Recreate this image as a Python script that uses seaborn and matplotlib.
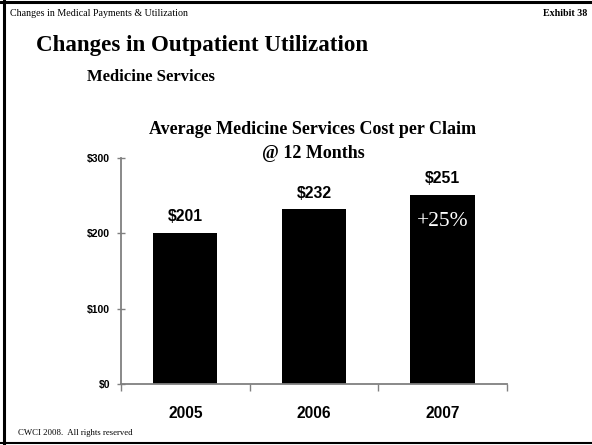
import matplotlib
matplotlib.use("Agg")
import matplotlib.pyplot as plt
import seaborn as sns
import pandas as pd
from matplotlib.lines import Line2D

years = ["2005", "2006", "2007"]
costs = [201, 232, 251]
value_labels = ["$201", "$232", "$251"]
ytick_vals = [0, 100, 200, 300]
ytick_labels = ["$0", "$100", "$200", "$300"]
change_label = "+25%"

sns.set_theme(style="white")
plt.rcParams["font.family"] = ["Liberation Sans", "DejaVu Sans"]
plt.rcParams["text.color"] = "black"
plt.rcParams["axes.labelcolor"] = "black"
plt.rcParams["xtick.color"] = "black"
plt.rcParams["ytick.color"] = "black"

df = pd.DataFrame({"year": years, "cost": costs})

W, H = 592, 445
fig = plt.figure(figsize=(W / 100, H / 100), dpi=100)
fig.patch.set_facecolor("white")

ax = fig.add_axes([121 / W, 1 - 384 / H, (507 - 121) / W, (384 - 158) / H])
sns.barplot(data=df, x="year", y="cost", color="black", width=0.5,
            saturation=1, ax=ax, edgecolor="black", linewidth=0)
ax.set_xlim(-0.5, 2.5)
ax.set_ylim(0, 300)
ax.set_xlabel("")
ax.set_ylabel("")
ax.set_facecolor("white")

gray = "#808080"
for s in ["top", "right"]:
    ax.spines[s].set_visible(False)
for s in ["left", "bottom"]:
    ax.spines[s].set_visible(True)
    ax.spines[s].set_color(gray)
    ax.spines[s].set_linewidth(1.3)

ax.set_yticks(ytick_vals)
ax.set_yticklabels(ytick_labels, fontsize=7.5, fontweight="bold",
                   family="Liberation Sans", color="black")
ax.tick_params(axis="y", direction="inout", length=6, width=1, color=gray,
               left=True, pad=5, labelcolor="black")
ax.set_xticks([-0.5, 0.5, 1.5, 2.5])
ax.set_xticklabels([])
ax.set_xticks([0, 1, 2], minor=True)
ax.set_xticklabels(years, minor=True, fontsize=11.2, fontweight="bold",
                   family="Liberation Sans", color="black")
ax.tick_params(axis="x", which="major", direction="out", length=5, width=1,
               color=gray, bottom=True)
ax.tick_params(axis="x", which="minor", length=0, pad=16, bottom=True,
               labelcolor="black")

for i, (v, lab) in enumerate(zip(costs, value_labels)):
    ax.annotate(lab, (i, v), xytext=(0, 11.5), textcoords="offset points",
                ha="center", va="center", fontsize=11.3, fontweight="bold",
                family="Liberation Sans", color="black")
ax.annotate(change_label, (2, costs[2]), xytext=(0, -19),
            textcoords="offset points", ha="center", va="center",
            fontsize=15.5, family="Liberation Serif", color="white")

fig.text(10 / W, 1 - 13 / H, "Changes in Medical Payments & Utilization",
         fontsize=7.2, family="Liberation Serif", ha="left", va="center",
         color="black")
fig.text(587 / W, 1 - 13 / H, "Exhibit 38", fontsize=7.2, fontweight="bold",
         family="Liberation Serif", ha="right", va="center", color="black")
fig.text(36 / W, 1 - 45 / H, "Changes in Outpatient Utilization",
         fontsize=16.6, fontweight="bold", family="Liberation Serif",
         ha="left", va="center", color="black")
fig.text(87 / W, 1 - 77 / H, "Medicine Services", fontsize=12,
         fontweight="bold", family="Liberation Serif", ha="left",
         va="center", color="black")
fig.text(313 / W, 1 - 130 / H, "Average Medicine Services Cost per Claim",
         fontsize=13, fontweight="bold", family="Liberation Serif",
         ha="center", va="center", color="black")
fig.text(313 / W, 1 - 153 / H, "@ 12 Months", fontsize=13,
         fontweight="bold", family="Liberation Serif", ha="center",
         va="center", color="black")
fig.text(18 / W, 1 - 433 / H, "CWCI 2008.  All rights reserved",
         fontsize=6.3, family="Liberation Serif", ha="left", va="center",
         color="black")

fig.add_artist(Line2D([0, 1], [1 - 1.5 / H, 1 - 1.5 / H], color="black",
                      lw=2.2, transform=fig.transFigure))
fig.add_artist(Line2D([4 / W, 4 / W], [0, 1], color="black", lw=2.2,
                      transform=fig.transFigure))
fig.add_artist(Line2D([0, 1], [1 - 443 / H, 1 - 443 / H], color="black",
                      lw=1.5, transform=fig.transFigure))

fig.savefig("out.png", dpi=100, facecolor="white")
